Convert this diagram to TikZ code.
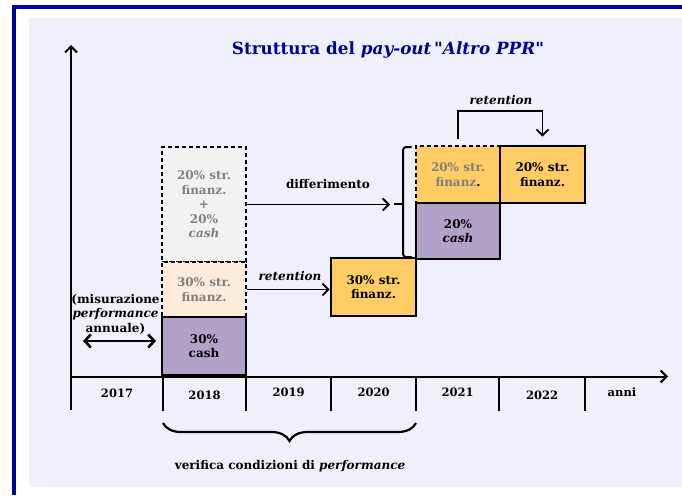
\documentclass[tikz,border=0pt]{standalone}
\usepackage{fontspec}
\setmainfont{DejaVu Serif}
\usetikzlibrary{arrows.meta,decorations.pathreplacing}
\definecolor{bgl}{RGB}{240,240,252}
\definecolor{frameblue}{RGB}{0,0,160}
\definecolor{titleblue}{RGB}{0,0,153}
\definecolor{boxpurple}{RGB}{179,162,199}
\definecolor{boxorange}{RGB}{255,204,102}
\definecolor{boxpeach}{RGB}{253,235,220}
\definecolor{boxgray}{RGB}{242,242,242}
\definecolor{txtgray}{RGB}{128,128,128}
\tikzset{
  lbl/.style={font=\bfseries\fontsize{12}{14.5}\selectfont, align=center, inner sep=0pt},
  yearlbl/.style={font=\bfseries\fontsize{11.5}{13}\selectfont, inner sep=0pt},
  solidbox/.style={draw=black, line width=2.8pt, inner sep=0pt, align=center, font=\bfseries\fontsize{12}{14.5}\selectfont},
  dashbox/.style={draw=black, line width=1.8pt, dash pattern=on 4pt off 3pt, inner sep=0pt, align=center, font=\bfseries\fontsize{12}{14.5}\selectfont},
  axisline/.style={line width=2pt},
  arr/.style={line width=1.8pt, -{Straight Barb[length=6pt,width=12pt,line width=1.8pt]}},
  dblarr/.style={line width=2.6pt, {Straight Barb[length=6pt,width=13pt,line width=2.6pt]}-{Straight Barb[length=6pt,width=13pt,line width=2.6pt]}}
}
\begin{document}
\begin{tikzpicture}[x=1pt,y=-1pt]
\useasboundingbox (0,0) rectangle (682,495);
\fill[white] (0,0) rectangle (682,495);
\fill[bgl] (29,18) rectangle (682,487);
\draw[frameblue, line width=4pt] (11.5,7) -- (682,7);
\draw[frameblue, line width=4pt] (13.5,5) -- (13.5,495);

% title
\node[font=\bfseries\fontsize{16.8}{18}\selectfont, text=titleblue, inner sep=0pt] (title) at (388,50)
  {Struttura del \textit{pay-out}\,\textquotedbl\textit{Altro PPR}\textquotedbl};

% axes
\coordinate (vbot) at (71,410);
\coordinate (vtop) at (71,45);
\coordinate (hstart) at (71,376.5);
\coordinate (hend) at (668,376.5);
\draw[axisline, -{Straight Barb[length=6pt,width=12pt,line width=2pt]}] (vbot) -- (vtop);
\draw[axisline, -{Straight Barb[length=6pt,width=12pt,line width=2pt]}] (hstart) -- (hend);
\foreach \xx in {163,246,331,416,499,585}
  \draw[axisline] (\xx,376.5) -- (\xx,411);

% year labels
\node[yearlbl] (y2017) at (117,393) {2017};
\node[yearlbl] (y2018) at (204.5,395) {2018};
\node[yearlbl] (y2019) at (288.5,392) {2019};
\node[yearlbl] (y2020) at (373.5,392) {2020};
\node[yearlbl] (y2021) at (457.5,392) {2021};
\node[yearlbl] (y2022) at (542,395) {2022};
\node[yearlbl] (anni) at (622,392) {anni};

% 2018 stack
\node[dashbox, fill=boxgray, text=txtgray, minimum width=84, minimum height=115] (grayA) at (204,204.5)
  {20\% str.\\finanz.\\+\\20\%\\\textit{cash}};
\node[dashbox, fill=boxpeach, text=txtgray, minimum width=84, minimum height=55] (peachA) at (204,289.5)
  {30\% str.\\finanz.};
\node[solidbox, fill=boxpurple, minimum width=84, minimum height=58] (cashA) at (204,346)
  {30\%\\cash};

% 2020 box
\node[solidbox, fill=boxorange, minimum width=85, minimum height=58] (finB) at (373.5,287)
  {30\% str.\\finanz.};

% 2021/2022 boxes
\node[dashbox, fill=boxorange, minimum width=84, minimum height=57] (finC) at (458,174.5)
  {{\color{txtgray}20\% str.}\\{\color{txtgray}finanz}.};
\node[solidbox, fill=boxpurple, minimum width=84, minimum height=56] (cashC) at (458,231)
  {20\%\\\textit{cash}};
\node[solidbox, fill=boxorange, minimum width=85, minimum height=57] (finD) at (542.5,174.5)
  {20\% str.\\finanz.};

% connectors
\coordinate (difend) at (390,204.5);
\draw[arr] (grayA.east) -- (difend);
\node[lbl] (diflbl) at (328,184) {differimento};

\draw[arr] (peachA.east) -- (peachA.east -| finB.west);
\node[lbl] (ret1) at (290,276) {\textit{retention}};

\draw[arr] ([yshift=6pt]finC.north) -- ++(0,-28) -| ([yshift=8pt]finD.north);
\node[lbl] (ret2) at (501,100) {\textit{retention}};

% bracket
\draw[line width=2pt, rounded corners=3pt] (411.5,147) -- (403,147) -- (403,257) -- (411.5,257);
\draw[line width=2pt] (403,203.5) -- (394,203.5);

% measurement
\node[lbl] (misura) at (115.5,314) {(misurazione\\\textit{performance}\\annuale)};
\coordinate (mA) at (83,341);
\coordinate (mB) at (156,341);
\draw[dblarr] (mA) -- (mB);

% brace
\draw[line width=2.2pt, decorate, decoration={brace, amplitude=18pt}] (416,423) -- (163,423);
\node[lbl] (verif) at (290,466) {verifica condizioni di \textit{performance}};
\end{tikzpicture}
\end{document}
